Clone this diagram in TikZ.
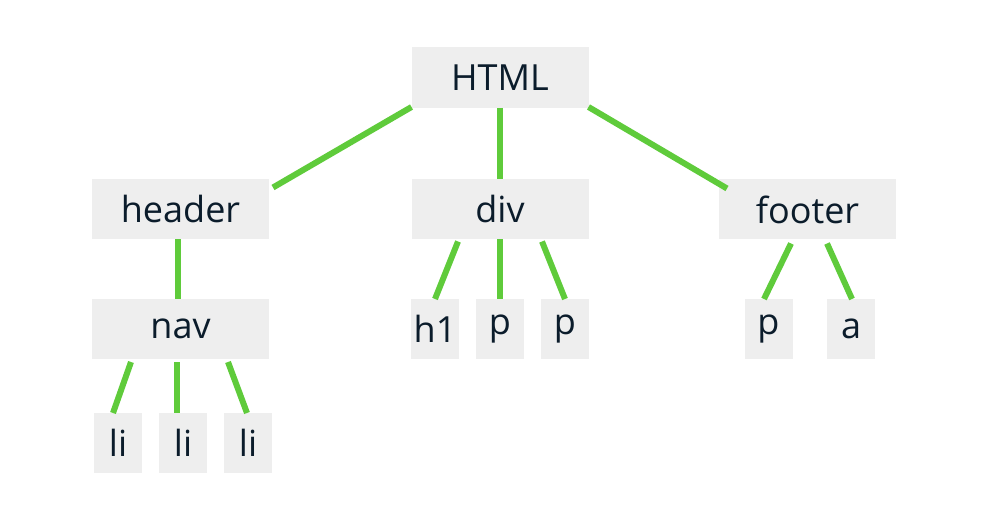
\documentclass[tikz,border=0pt]{standalone}
\usepackage{fontspec}
\setmainfont{Open Sans}
\usepackage{tikz}
\definecolor{boxgray}{HTML}{EEEEEE}
\definecolor{inkblue}{HTML}{0B1C2B}
\definecolor{leafgreen}{HTML}{5FCB3B}

\begin{document}
\begin{tikzpicture}[x=1pt, y=-1pt,
  every node/.style={fill=boxgray, text=inkblue, inner sep=0pt, outer sep=0pt, minimum height=60pt, font=\fontsize{36}{43}\selectfont},
  wide/.style={minimum width=177pt},
  narrow/.style={minimum width=48pt},
  link/.style={draw=leafgreen, line width=6pt}]
\useasboundingbox (0,0) rectangle (1000,518);

\node[wide, minimum height=61pt] (html) at (500,77.5) {HTML};

\node[wide] (header) at (180.5,209.5) {header};
\node[wide] (div) at (500,209.5) {div};
\node[wide] (footer) at (807.5,209.5) {footer};

\node[wide] (nav) at (180.5,329) {nav};
\node[narrow] (hone) at (435,329) {h1};
\node[narrow] (pone) at (500,329) {p};
\node[narrow] (ptwo) at (565,329) {p};
\node[narrow] (pthree) at (768.5,329) {p};
\node[narrow] (aone) at (851,329) {a};

\node[narrow] (lione) at (118,443) {li};
\node[narrow] (litwo) at (183,443) {li};
\node[narrow] (lithree) at (248,443) {li};

\draw[link] ([yshift=1pt]html.south west) -- ([xshift=4pt, yshift=-8pt]header.north east);
\draw[link] (html.south) -- (div.north);
\draw[link] ([yshift=1pt]html.south east) -- ([xshift=8pt, yshift=-9pt]footer.north west);

\draw[link] ([xshift=-3pt]header.south) -- ([xshift=-3pt]nav.north);
\draw[link] ([xshift=-49.5pt, yshift=-3pt]nav.south) -- ([xshift=-5pt]lione.north);
\draw[link] ([xshift=-3.5pt, yshift=-3pt]nav.south) -- ([xshift=-6pt]litwo.north);
\draw[link] ([xshift=47.5pt, yshift=-3pt]nav.south) -- ([xshift=-1pt]lithree.north);

\draw[link] ([xshift=-42pt, yshift=-2pt]div.south) -- (hone.north);
\draw[link] (div.south) -- (pone.north);
\draw[link] ([xshift=42pt, yshift=-2pt]div.south) -- (ptwo.north);

\draw[link] ([xshift=-16.5pt, yshift=-4pt]footer.south) -- ([xshift=-4.5pt]pthree.north);
\draw[link] ([xshift=19.5pt, yshift=-4pt]footer.south) -- ([xshift=1pt]aone.north);
\end{tikzpicture}
\end{document}
